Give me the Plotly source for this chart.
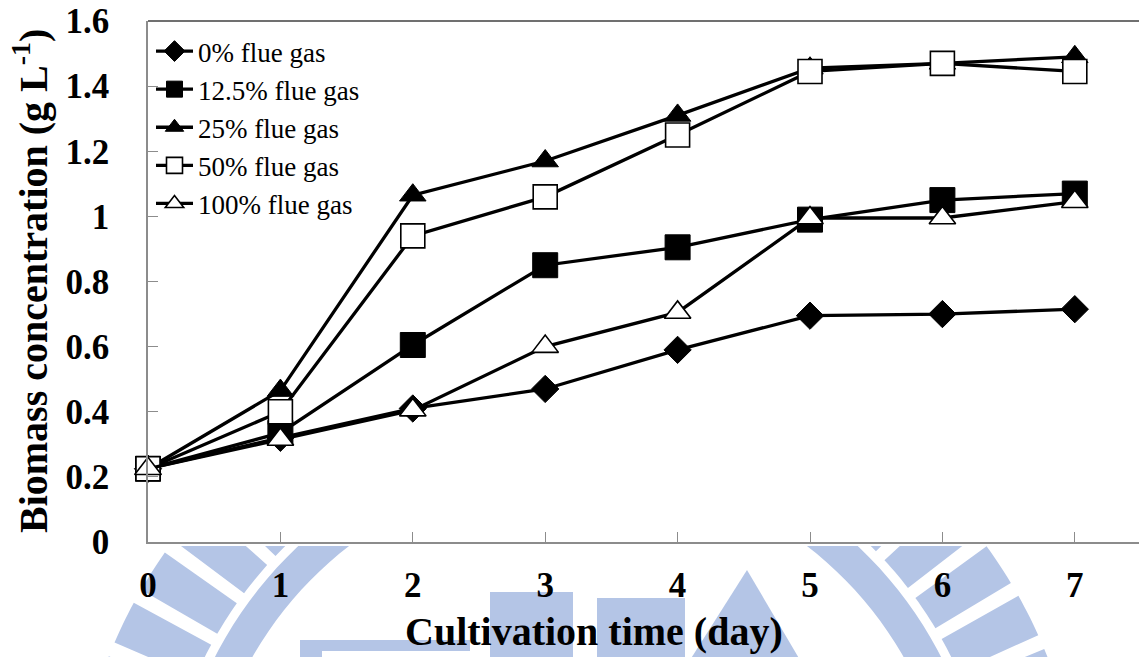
import numpy as np
import plotly.graph_objects as go

# ---- data -------------------------------------------------------------
days = [0, 1, 2, 3, 4, 5, 6, 7]
flue_0 = [0.225, 0.32, 0.41, 0.47, 0.59, 0.695, 0.70, 0.715]
flue_12_5 = [0.225, 0.335, 0.605, 0.85, 0.905, 0.99, 1.05, 1.07]
flue_25 = [0.225, 0.465, 1.065, 1.17, 1.31, 1.455, 1.47, 1.49]
flue_50 = [0.225, 0.40, 0.94, 1.06, 1.25, 1.445, 1.47, 1.445]
flue_100 = [0.225, 0.315, 0.405, 0.60, 0.705, 0.995, 0.995, 1.045]
series_names = ["0% flue gas", "12.5% flue gas", "25% flue gas",
                "50% flue gas", "100% flue gas"]
y_ticks = [0, 0.2, 0.4, 0.6, 0.8, 1.0, 1.2, 1.4, 1.6]
y_tick_text = ["0", "0.2", "0.4", "0.6", "0.8", "1", "1.2", "1.4", "1.6"]

# ---- page geometry ----------------------------------------------------
W, H = 1139, 657
ML, MR, MT, MB = 148, 0, 21, 115
PW, PH = W - ML - MR, H - MT - MB
X_MAX = PW / 132.4          # day 7 sits at 1075 px


def paper(px, py):
    return (px - ML) / PW, (H - MB - py) / PH


def clip_below(points, ymin):
    """Keep the part of a polygon lying at pixel rows >= ymin."""
    out = []
    n = len(points)
    for i in range(n):
        p, q = points[i], points[(i + 1) % n]
        pin, qin = p[1] >= ymin, q[1] >= ymin
        if pin:
            out.append(p)
        if pin != qin:
            t = (ymin - p[1]) / (q[1] - p[1])
            out.append((p[0] + t * (q[0] - p[0]), ymin))
    return out


def poly_path(points, ymin=546):
    pts = clip_below(points, ymin)
    if len(pts) < 3:
        return None
    segs = []
    for i, (px, py) in enumerate(pts):
        x, y = paper(px, py)
        segs.append(("M" if i == 0 else "L") + f"{x:.5f},{y:.5f}")
    return " ".join(segs) + " Z"


def sector(cx, cy, r0, r1, a0, a1, n=40):
    angs = np.radians(np.linspace(a0, a1, n))
    outer = [(cx + r1 * np.sin(a), cy - r1 * np.cos(a)) for a in angs]
    inner = [(cx + r0 * np.sin(a), cy - r0 * np.cos(a)) for a in angs[::-1]]
    return outer + inner


# ---- faint emblem behind the axis labels --------------------------------
EMBLEM = "#b4c5e6"
CX, CY = 578, 843
emblem_polys = [sector(CX, CY, 375, 408, -80, 80, 80)]
a = -80.0
while a < 80:
    emblem_polys.append(sector(CX, CY, 417, 505, a, a + 5.0, 8))
    a += 6.7
emblem_polys += [
    [(490, 592), (573, 592), (573, 660), (490, 660)],
    [(597, 598), (685, 598), (685, 660), (597, 660)],
    [(300, 640), (470, 640), (470, 651), (322, 651), (322, 660), (300, 660)],
    [(747, 570), (800, 660), (690, 660)],
]
shapes = []
for poly in emblem_polys:
    path = poly_path(poly)
    if path:
        shapes.append(dict(type="path", path=path, xref="paper", yref="paper",
                           fillcolor=EMBLEM, line=dict(width=0), layer="below"))

# top frame edge of the plot area
shapes.append(dict(type="line", xref="paper", yref="paper", x0=0, x1=1, y0=1, y1=1,
                   line=dict(color="#404040", width=1.5), layer="above"))

# ---- traces -----------------------------------------------------------
styles = [
    dict(symbol="diamond", size=21, color="black", line=dict(color="black", width=1)),
    dict(symbol="square", size=25, color="black", line=dict(color="black", width=1)),
    dict(symbol="triangle-up", size=23, color="black", line=dict(color="black", width=1)),
    dict(symbol="square", size=24, color="white", line=dict(color="black", width=1.6)),
    dict(symbol="triangle-up", size=23, color="white", line=dict(color="black", width=1.6)),
]
values = [flue_0, flue_12_5, flue_25, flue_50, flue_100]

fig = go.Figure()
for name, vals, mk in zip(series_names, values, styles):
    fig.add_trace(go.Scatter(
        x=days, y=vals, name=name, mode="lines+markers",
        line=dict(color="black", width=3.3), marker=mk, cliponaxis=False,
    ))

serif = "Liberation Serif"
ax_col = "#8c8c8c"

lx, ly = paper(151, 27)
tx, ty = paper(594, 631)
yx, yy = paper(30, 281)

fig.update_layout(
    width=W, height=H,
    margin=dict(l=ML, r=MR, t=MT, b=MB, pad=0),
    paper_bgcolor="white", plot_bgcolor="white",
    font=dict(family=serif, color="black"),
    showlegend=True,
    legend=dict(x=lx, y=ly, xanchor="left", yanchor="top",
                bgcolor="rgba(0,0,0,0)", borderwidth=0,
                font=dict(family=serif, size=27, color="black"),
                itemwidth=37),
    xaxis=dict(range=[0, X_MAX], tickmode="array", tickvals=days,
               ticktext=[str(d) for d in days],
               showgrid=False, zeroline=False, showline=True,
               linecolor=ax_col, linewidth=1.5,
               ticks="inside", ticklen=10, tickwidth=1.2, tickcolor=ax_col,
               ticklabelstandoff=11,
               tickfont=dict(family=serif, size=35, color="black", weight="bold")),
    yaxis=dict(range=[0, 1.6], tickmode="array", tickvals=y_ticks,
               ticktext=y_tick_text,
               showgrid=False, zeroline=False, showline=True,
               linecolor=ax_col, linewidth=1.5,
               ticks="inside", ticklen=10, tickwidth=1.2, tickcolor=ax_col,
               ticklabelstandoff=30,
               tickfont=dict(family=serif, size=35, color="black", weight="bold")),
    shapes=shapes,
    annotations=[
        dict(text="<b>Cultivation time (day)</b>", xref="paper", yref="paper",
             x=tx, y=ty, xanchor="center", yanchor="middle", showarrow=False,
             font=dict(family=serif, size=40, color="black")),
        dict(text="<b>Biomass concentration (g L<sup>-1</sup>)</b>",
             xref="paper", yref="paper", x=yx, y=yy, textangle=-90,
             xanchor="center", yanchor="middle", showarrow=False,
             font=dict(family=serif, size=40, color="black")),
    ],
)

fig.write_html("out.html")
